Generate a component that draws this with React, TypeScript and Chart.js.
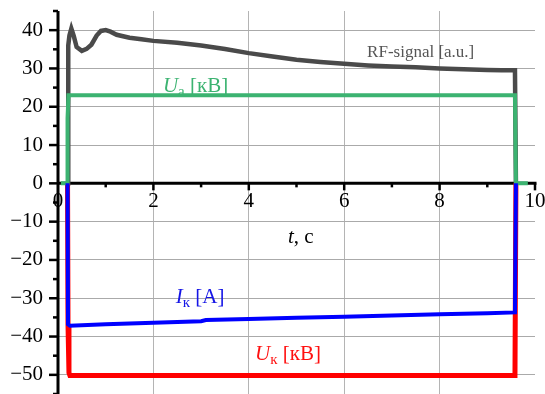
import React, { useEffect, useRef } from "react";
import { Chart, registerables } from "chart.js";
Chart.register(...registerables);

// ---- data ----
const rfTime = [0.21, 0.215, 0.24, 0.28, 0.33, 0.39, 0.5, 0.6, 0.7, 0.81, 0.9, 1.0, 1.1, 1.23, 1.5, 1.75, 2.0, 2.5, 3.0, 3.5, 4.0, 4.5, 5.0, 5.5, 6.0, 6.5, 7.0, 7.5, 8.0, 8.5, 9.0, 9.3, 9.58, 9.6];
const rfValue = [0, 36, 38.6, 40.4, 38.5, 35.6, 34.6, 35.1, 36.2, 38.6, 39.8, 40.0, 39.6, 38.8, 38.0, 37.6, 37.2, 36.7, 36.0, 35.1, 34.0, 33.1, 32.3, 31.7, 31.2, 30.8, 30.5, 30.3, 30.0, 29.8, 29.6, 29.5, 29.5, 0];

const uaTime = [0.06, 0.2, 0.2, 0.22, 9.58, 9.6, 9.85];
const uaValue = [0, 0, 17, 23, 23, 0, 0];

const ikTime = [0.2, 0.21, 0.25, 1, 2, 3, 3.1, 4, 5, 6, 7, 8, 9, 9.58, 9.6];
const ikValue = [0, -36.8, -37.2, -36.8, -36.4, -36.0, -35.7, -35.4, -35.1, -34.8, -34.5, -34.2, -33.9, -33.7, 0];

const ukTime = [0.2, 0.21, 0.23, 0.25, 9.58, 9.6];
const ukValue = [0, -37, -49.5, -50.2, -50.2, 0];

const yTickValues = [-50, -40, -30, -20, -10, 0, 10, 20, 30, 40];
const yMinorTicks = [-55, -45, -35, -25, -15, -5, 5, 15, 25, 35, 45];
const xTickValues = [0, 2, 4, 6, 8, 10];
const xMajorMarks = [2, 4, 6, 8, 10];
const xMinorMarks = [1, 3, 5, 7, 9];

const FONT = "'Liberation Serif', 'Times New Roman', serif";

const zip = (t: number[], v: number[]) => t.map((x, i) => ({ x, y: v[i] }));

type Part = { text: string; italic?: boolean; sub?: boolean };

function drawParts(ctx: CanvasRenderingContext2D, parts: Part[], x: number, y: number, size: number, color: string) {
  ctx.fillStyle = color;
  ctx.textBaseline = "alphabetic";
  ctx.textAlign = "left";
  let cx = x;
  for (const p of parts) {
    const s = p.sub ? Math.round(size * 0.7) : size;
    ctx.font = `${p.italic ? "italic " : ""}${s}px ${FONT}`;
    ctx.fillText(p.text, cx, y + (p.sub ? size * 0.18 : 0));
    cx += ctx.measureText(p.text).width;
  }
}

const axesPlugin = {
  id: "customAxes",
  beforeDatasetsDraw(chart: any) {
    const { ctx, chartArea } = chart;
    const xs = chart.scales.x;
    const ys = chart.scales.y;
    const x0 = xs.getPixelForValue(0);
    const x10 = xs.getPixelForValue(10);
    const y0 = ys.getPixelForValue(0);
    ctx.save();
    ctx.strokeStyle = "#000";
    ctx.lineCap = "butt";
    ctx.lineWidth = 3;
    ctx.beginPath();
    ctx.moveTo(x0, chartArea.top);
    ctx.lineTo(x0, chartArea.bottom);
    ctx.stroke();
    ctx.beginPath();
    ctx.moveTo(x0, y0);
    ctx.lineTo(x10 + 1.5, y0);
    ctx.stroke();
    ctx.lineWidth = 2.5;
    for (const v of yTickValues) {
      const py = ys.getPixelForValue(v);
      ctx.beginPath();
      ctx.moveTo(x0 - 9, py);
      ctx.lineTo(x0, py);
      ctx.stroke();
    }
    for (const v of yMinorTicks) {
      const py = ys.getPixelForValue(v);
      ctx.beginPath();
      ctx.moveTo(x0 - 5, py);
      ctx.lineTo(x0, py);
      ctx.stroke();
    }
    for (const v of xMajorMarks) {
      const px = xs.getPixelForValue(v);
      ctx.beginPath();
      ctx.moveTo(px, y0);
      ctx.lineTo(px, y0 + 7);
      ctx.stroke();
    }
    for (const v of xMinorMarks) {
      const px = xs.getPixelForValue(v);
      ctx.beginPath();
      ctx.moveTo(px, y0);
      ctx.lineTo(px, y0 + 4);
      ctx.stroke();
    }
    ctx.restore();
  },
  afterDraw(chart: any) {
    const { ctx } = chart;
    const xs = chart.scales.x;
    const ys = chart.scales.y;
    const P = (t: number, v: number) => [xs.getPixelForValue(t), ys.getPixelForValue(v)];
    ctx.save();
    let [px, py] = P(6.48, 32.9);
    drawParts(ctx, [{ text: "RF-signal [a.u.]" }], px, py, 17, "#555555");
    [px, py] = P(2.2, 23.9);
    drawParts(ctx, [{ text: "U", italic: true }, { text: "a", sub: true }, { text: " [кВ]" }], px, py, 21, "#3cb371");
    [px, py] = P(2.47, -31.3);
    drawParts(ctx, [{ text: "I", italic: true }, { text: "к", sub: true }, { text: " [A]" }], px, py, 21, "#1515e6");
    [px, py] = P(4.13, -46.2);
    drawParts(ctx, [{ text: "U", italic: true }, { text: "к", sub: true }, { text: " [кВ]" }], px, py, 21, "#ff1010");
    [px, py] = P(4.82, -15.7);
    drawParts(ctx, [{ text: "t", italic: true }, { text: ", с" }], px, py, 21, "#000000");
    ctx.restore();
  },
};

export default function App() {
  const ref = useRef<HTMLCanvasElement | null>(null);
  useEffect(() => {
    document.body.style.margin = "0";
    const canvas = ref.current!;
    const chart = new Chart(canvas, {
      type: "line",
      data: {
        datasets: [
          { label: "RF", data: zip(rfTime, rfValue), borderColor: "#4a4a4a", borderWidth: 4.5, order: 3 },
          { label: "Uk", data: zip(ukTime, ukValue), borderColor: "#ff0000", borderWidth: 5, order: 2 },
          { label: "Ua", data: zip(uaTime, uaValue), borderColor: "#3cb371", borderWidth: 4, order: 1 },
          { label: "Ik", data: zip(ikTime, ikValue), borderColor: "#0000ff", borderWidth: 4, order: 0 },
        ] as any,
      },
      options: {
        animation: false,
        responsive: false,
        maintainAspectRatio: false,
        layout: { padding: { top: 11, right: 10, bottom: 0, left: 0 } },
        elements: { point: { radius: 0 }, line: { tension: 0, borderCapStyle: "butt", borderJoinStyle: "miter" } },
        plugins: { legend: { display: false }, tooltip: { enabled: false } },
        scales: {
          x: {
            type: "linear",
            min: 0,
            max: 10,
            position: { y: 0 } as any,
            border: { display: false },
            grid: {
              drawTicks: false,
              color: (c: any) => (c.tick && (c.tick.value === 0 || c.tick.value === 10) ? "rgba(0,0,0,0)" : "#b4b4b4"),
              lineWidth: 1,
            },
            afterBuildTicks: (s: any) => {
              s.ticks = xTickValues.map((v) => ({ value: v }));
            },
            afterFit: (s: any) => {
              s.paddingLeft = 0;
              s.paddingRight = 0;
              s.paddingTop = 0;
              s.paddingBottom = 0;
            },
            ticks: {
              padding: 6,
              color: "#000",
              font: { family: FONT, size: 21 },
              maxRotation: 0,
              autoSkip: false,
              callback: (v: any) => String(v),
            },
          },
          y: {
            type: "linear",
            min: -55,
            max: 45,
            position: "left",
            border: { display: false },
            grid: {
              drawTicks: false,
              color: (c: any) => (c.tick && c.tick.value === 0 ? "rgba(0,0,0,0)" : "#aaaaaa"),
              lineWidth: 1,
            },
            afterBuildTicks: (s: any) => {
              s.ticks = yTickValues.map((v) => ({ value: v }));
            },
            afterFit: (s: any) => {
              s.width = 58;
              s.paddingTop = 0;
              s.paddingBottom = 0;
            },
            ticks: {
              padding: 15,
              color: "#000",
              font: { family: FONT, size: 21 },
              autoSkip: false,
              callback: (v: any) => (v < 0 ? "\u2212" + Math.abs(v) : String(v)),
            },
          },
        },
      },
      plugins: [axesPlugin],
    });
    return () => chart.destroy();
  }, []);
  return (
    <div style={{ position: "fixed", left: 0, top: 0, width: 545, height: 394 }}>
      <canvas ref={ref} width={545} height={394} style={{ display: "block" }} />
    </div>
  );
}
